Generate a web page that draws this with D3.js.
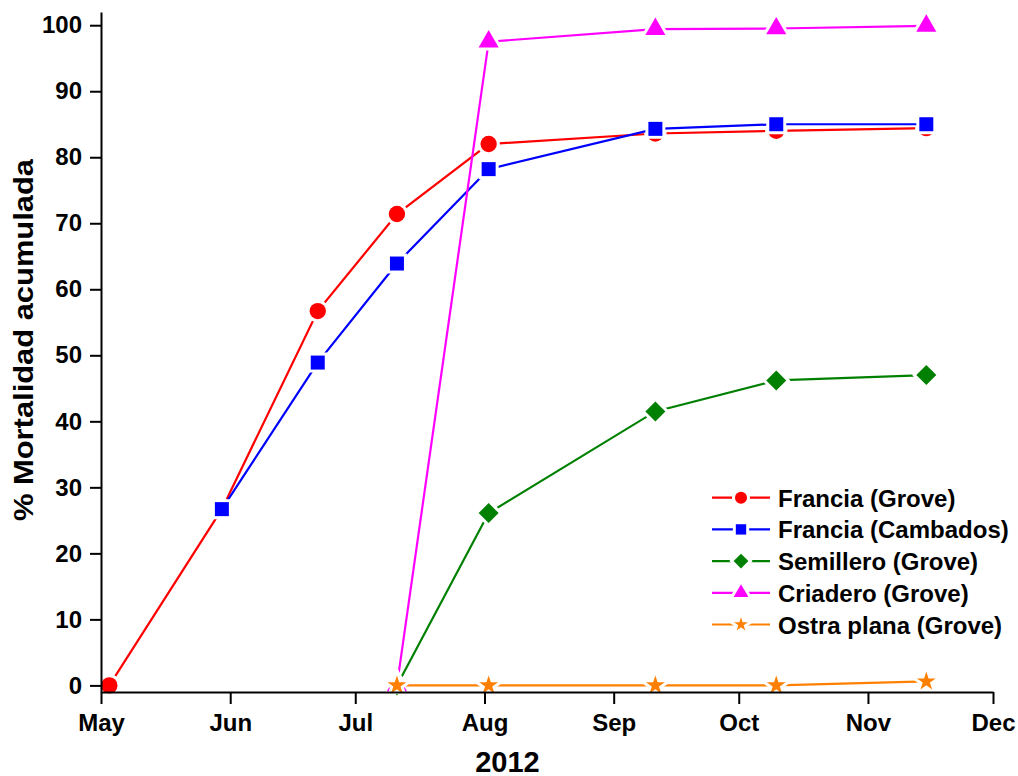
<!DOCTYPE html>
<html><head><meta charset="utf-8">
<script src="https://cdn.jsdelivr.net/npm/d3@7"></script>
<style>
body{margin:0;background:#fff}
svg{display:block}
text{font-family:"Liberation Sans",Arial,Helvetica,sans-serif;font-weight:bold;fill:#000}
</style>
</head><body>
<svg id="chart" width="1018" height="776"></svg>
<script>
// ---- data ----
const sampleDates = ["2012-05-03","2012-05-30","2012-06-22","2012-07-11","2012-08-02","2012-09-11","2012-10-10","2012-11-15"];
const monthTickDates = ["2012-05-01","2012-06-01","2012-07-01","2012-08-01","2012-09-01","2012-10-01","2012-11-01","2012-12-01"];
const monthLabels = ["May","Jun","Jul","Aug","Sep","Oct","Nov","Dec"];
const yTickValues = [0,10,20,30,40,50,60,70,80,90,100];
const seriesNames = ["Francia (Grove)","Francia (Cambados)","Semillero (Grove)","Criadero (Grove)","Ostra plana (Grove)"];
const franciaGrove    = [0, 26.7, 56.7, 71.4, 82.0, 83.6, 84.0, 84.4];
const franciaCambados = [null, 26.7, 48.9, 63.9, 78.2, 84.3, 85.0, 85.0];
const semilleroGrove  = [null, null, null, 0, 26.1, 41.5, 46.2, 47.0];
const criaderoGrove   = [null, null, null, 0, 97.5, 99.4, 99.5, 99.9];
const ostraPlanaGrove = [null, null, null, 0, 0, 0, 0, 0.6];
const xAxisTitle = "2012";
const yAxisTitle = "% Mortalidad acumulada";

// ---- styles ----
const seriesValues = [franciaGrove, franciaCambados, semilleroGrove, criaderoGrove, ostraPlanaGrove];
const colors = ["#ff0000","#0000ff","#008000","#ff00ff","#ff8000"];
const shapes = ["circle","square","diamond","triangle","star"];

const svg = d3.select("#chart");
const parse = d3.utcParse("%Y-%m-%d");

const x = d3.scaleUtc().domain([parse("2012-05-01"), parse("2012-12-01")]).range([101, 993]);
const y = d3.scaleLinear().domain([-1, 102]).range([692, 12]);

function symbolPath(shape, scale) {
  const s = scale || 1;
  switch (shape) {
    case "circle": return d3.symbol(d3.symbolCircle, 210 * s * s)();
    case "square": return d3.symbol(d3.symbolSquare, 196 * s * s)();
    case "diamond": return d3.symbol(d3.symbolSquare, 200 * s * s)();
    case "triangle": return d3.symbol(d3.symbolTriangle, 175 * s * s)();
    case "star": return d3.symbol(d3.symbolStar, 110 * s * s)();
  }
}

// ---- series ----
const line = d3.line().x(d => x(d.date)).y(d => y(d.v));

seriesValues.forEach((vals, si) => {
  const pts = vals.map((v, i) => ({ date: parse(sampleDates[i]), v }))
                  .filter(d => d.v !== null);
  const g = svg.append("g");
  g.append("path")
    .attr("d", line(pts))
    .attr("fill", "none")
    .attr("stroke", colors[si])
    .attr("stroke-width", 2.2);
  g.selectAll("path.m").data(pts).join("path")
    .attr("class", "m")
    .attr("d", symbolPath(shapes[si], 1))
    .attr("transform", d => `translate(${x(d.date)},${y(d.v)})` + (shapes[si] === "diamond" ? " rotate(45)" : ""))
    .attr("fill", colors[si])
    .attr("stroke", "#fff")
    .attr("stroke-width", 6)
    .attr("paint-order", "stroke");
});

// ---- axes (drawn above the series) ----
const xAxis = d3.axisBottom(x)
  .tickValues(monthTickDates.map(parse))
  .tickFormat((d, i) => monthLabels[i])
  .tickSizeInner(12).tickSizeOuter(0).tickPadding(10);
const gx = svg.append("g").attr("transform", "translate(0,692)").call(xAxis);

const yAxis = d3.axisLeft(y)
  .tickValues(yTickValues)
  .tickSizeInner(11).tickSizeOuter(0).tickPadding(8);
const gy = svg.append("g").attr("transform", "translate(101,0)").call(yAxis);

[gx, gy].forEach(g => {
  g.select(".domain").attr("stroke", "#000").attr("stroke-width", 2);
  g.selectAll(".tick line").attr("stroke", "#000").attr("stroke-width", 2);
  g.selectAll(".tick text").attr("font-size", 24).attr("font-family", null).attr("fill", "#000");
});

svg.append("text")
  .attr("x", 507.5).attr("y", 771.5)
  .attr("text-anchor", "middle")
  .attr("font-size", 29)
  .text(xAxisTitle);

svg.append("text")
  .attr("transform", "rotate(-90)")
  .attr("x", -340).attr("y", 33)
  .attr("text-anchor", "middle")
  .attr("font-size", 28)
  .attr("textLength", 362)
  .attr("lengthAdjust", "spacingAndGlyphs")
  .text(yAxisTitle);

// ---- legend ----
const legend = svg.append("g");
seriesNames.forEach((name, i) => {
  const ly = 497.7 + i * 31.7;
  const row = legend.append("g").attr("transform", `translate(0,${ly})`);
  row.append("line")
    .attr("x1", 712).attr("x2", 770).attr("y1", 0).attr("y2", 0)
    .attr("stroke", colors[i]).attr("stroke-width", 2.2);
  row.append("path")
    .attr("d", symbolPath(shapes[i], 0.74))
    .attr("transform", "translate(741,0)" + (shapes[i] === "diamond" ? " rotate(45)" : ""))
    .attr("fill", colors[i])
    .attr("stroke", "#fff")
    .attr("stroke-width", 6)
    .attr("paint-order", "stroke");
  row.append("text")
    .attr("x", 778).attr("y", 9)
    .attr("font-size", 24)
    .text(name);
});
</script>
</body></html>
